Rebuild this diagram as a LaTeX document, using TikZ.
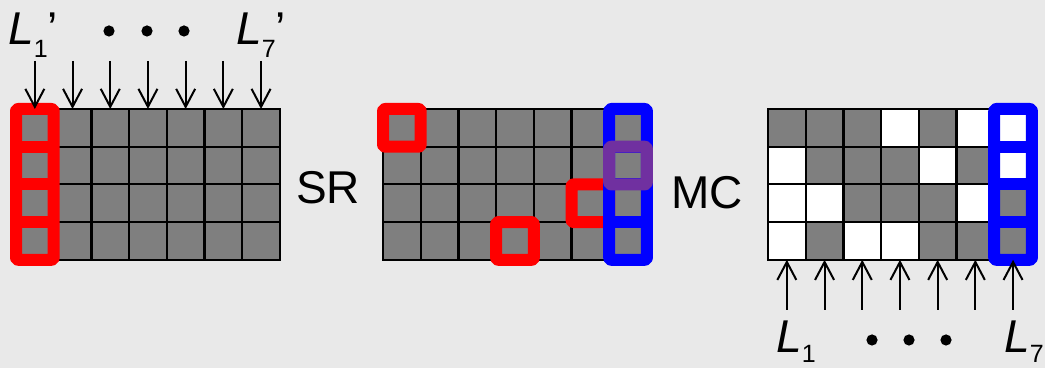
\documentclass[tikz,border=0pt]{standalone}
\usepackage{fontspec}
\setmainfont{Liberation Sans}
\usetikzlibrary{positioning, arrows.meta, calc}

\definecolor{paper}{RGB}{233,233,233}
\definecolor{cellgray}{RGB}{127,127,127}
\definecolor{hlred}{RGB}{255,0,0}
\definecolor{hlblue}{RGB}{0,0,255}
\definecolor{hlpurple}{RGB}{112,48,160}
\newcommand{\subsz}{\fontsize{12.5}{14}\selectfont}

\begin{document}
\begin{tikzpicture}[x=0.5pt, y=-0.5pt,
  cell/.style={draw=black, fill=cellgray, line width=1.1pt, minimum size=18.85pt,
               inner sep=0pt, outer sep=0pt},
  blank/.style={cell, fill=white},
  hl/.style={line width=6pt, line join=round, rounded corners=1pt},
  arr/.style={-{Straight Barb[length=9pt, width=9.5pt]}, line width=1pt},
  lbl/.style={font=\fontsize{23}{26}\selectfont, inner sep=0pt},
]

% Paper
\fill[paper] (0,0) rectangle (1045,368);
\useasboundingbox (0,0) rectangle (1045,368);

% Grids
\foreach \g/\gx in {a/16, b/383, c/768}
  \foreach \r in {1,...,4}
    \foreach \c in {1,...,7}
      \node[cell] (\g-\r-\c) at ({\gx+(\c-0.5)*37.7}, {109+(\r-0.5)*37.7}) {};

% Empty cells of the right grid
\foreach \rc in {1-4, 1-6, 1-7, 2-1, 2-5, 2-7, 3-1, 3-2, 3-6, 4-1, 4-3, 4-4}
  \node[blank] at (c-\rc) {};

% Red marks
\draw[hl, hlred] (a-1-1.north west) rectangle (a-4-1.south east);
\foreach \r in {1,2,3}
  \draw[hl, hlred, sharp corners] (a-\r-1.south west) -- (a-\r-1.south east);
\foreach \rc in {1-1, 4-4, 3-6}
  \draw[hl, hlred] (b-\rc.north west) rectangle (b-\rc.south east);

% Blue columns
\foreach \g in {b, c} {
  \draw[hl, hlblue] (\g-1-7.north west) rectangle (\g-4-7.south east);
  \foreach \r in {1,2,3}
    \draw[hl, hlblue, sharp corners] (\g-\r-7.south west) -- (\g-\r-7.south east);
}
\draw[hl, hlpurple] (b-2-7.north west) rectangle (b-2-7.south east);

% Arrows
\foreach \c in {1,...,7} {
  \coordinate (in\c) at ($(a-1-\c.north)+(0,-48)$);
  \draw[arr] (in\c) -- (a-1-\c.north);
  \coordinate (out\c) at ($(c-4-\c.south)+(0,50)$);
  \draw[arr] (out\c) -- (c-4-\c.south);
}

% Dots
\foreach \x in {109, 147, 184} \fill (\x,31) circle (2.8pt);
\foreach \x in {872, 909, 946} \fill (\x,340) circle (2.8pt);

% Labels
\node[lbl, anchor=base west] (lin1) at (8,45) {\textit{L}\raisebox{-6.5pt}{\subsz 1}’};
\node[lbl, anchor=base west] (lin7) at (236,45) {\textit{L}\raisebox{-6.5pt}{\subsz 7}’};
\node[lbl, right=8pt of a-2-7.south east, yshift=-1.5pt] (srtxt) {SR};
\node[lbl, right=12pt of b-2-7.south east, yshift=-4pt] (mctxt) {MC};
\node[lbl, anchor=base west] (lout1) at (776,353) {\textit{L}\raisebox{-5pt}{\subsz 1}};
\node[lbl, anchor=base west] (lout7) at (1004,353) {\textit{L}\raisebox{-5pt}{\subsz 7}};

\end{tikzpicture}
\end{document}
